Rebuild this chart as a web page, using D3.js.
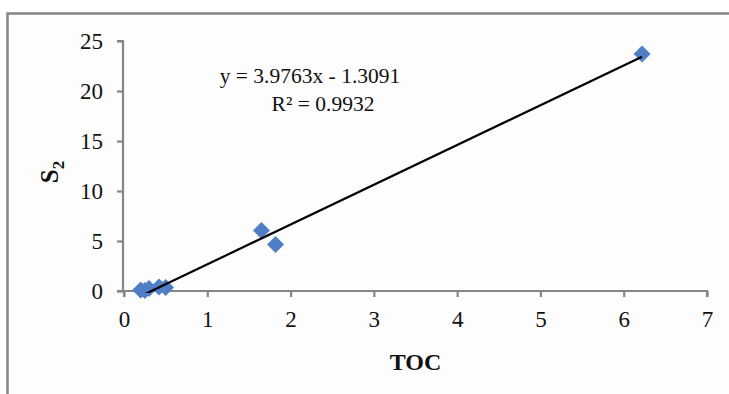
<!DOCTYPE html>
<html>
<head>
<meta charset="utf-8">
<script src="https://cdn.jsdelivr.net/npm/d3@7/dist/d3.min.js"></script>
<style>
  html, body { margin: 0; padding: 0; background: #fff; }
  svg { display: block; }
</style>
</head>
<body>
<script>
// Sample measurements: total organic carbon vs. S2
const tocValues = [0.20, 0.25, 0.30, 0.42, 0.50, 1.65, 1.82, 6.22];
const s2Values  = [0.10, 0.05, 0.25, 0.40, 0.35, 6.05, 4.65, 23.7];
const xTicks = [0, 1, 2, 3, 4, 5, 6, 7];
const yTicks = [0, 5, 10, 15, 20, 25];
const slope = 3.9763;
const intercept = -1.3091;
const equationText = "y = 3.9763x - 1.3091";
const r2Text = "R² = 0.9932";

const W = 729, H = 394;
const plot = { left: 124, right: 707, top: 41, bottom: 291 };

const svg = d3.select("body").append("svg")
  .attr("width", W).attr("height", H);

// chart area with frame
svg.append("rect").attr("x", 0).attr("y", 0).attr("width", W).attr("height", H).attr("fill", "#fff");
svg.append("rect")
  .attr("x", 7.5).attr("y", 13.5).attr("width", W + 20).attr("height", H + 20)
  .attr("fill", "#fdfdfd").attr("stroke", "#868686").attr("stroke-width", 2.5);

const x = d3.scaleLinear().domain([0, 7]).range([plot.left, plot.right]);
const y = d3.scaleLinear().domain([0, 25]).range([plot.bottom, plot.top]);

const serif = "'Liberation Serif', 'Times New Roman', serif";

// axes
const xAxis = svg.append("g")
  .attr("transform", `translate(0,${plot.bottom})`)
  .call(d3.axisBottom(x).tickValues(xTicks).tickFormat(d3.format("d")).tickSize(6).tickPadding(14));
const yAxis = svg.append("g")
  .attr("transform", `translate(${plot.left - 1},0)`)
  .call(d3.axisLeft(y).tickValues(yTicks).tickFormat(d3.format("d")).tickSize(6).tickPadding(14));

[xAxis, yAxis].forEach(g => {
  g.select(".domain").attr("stroke", "#868686").attr("stroke-width", 2.2);
  g.selectAll(".tick line").attr("stroke", "#868686").attr("stroke-width", 2.2);
  g.selectAll(".tick text")
    .attr("fill", "#111").style("font-family", serif).style("font-size", "23px");
});
xAxis.select(".domain").attr("d", `M${plot.left},6V0H${plot.right}V6`);
yAxis.select(".domain").attr("d", `M-6,${plot.top}H0V${plot.bottom}H-6`);
yAxis.selectAll(".tick text").attr("dy", "0.34em");

// axis titles
svg.append("text")
  .attr("x", (plot.left + plot.right) / 2).attr("y", 370)
  .attr("text-anchor", "middle")
  .style("font-family", serif).style("font-size", "24px").style("font-weight", "bold")
  .attr("fill", "#111")
  .text("TOC");

const yTitle = svg.append("text")
  .attr("transform", `translate(58,${(plot.top + plot.bottom) / 2 + 6}) rotate(-90)`)
  .attr("text-anchor", "middle")
  .style("font-family", serif).style("font-size", "25px").style("font-weight", "bold")
  .attr("fill", "#111");
yTitle.append("tspan").text("S");
yTitle.append("tspan").attr("dy", 6).style("font-size", "17px").text("2");

// data points as diamonds
const pts = tocValues.map((v, i) => ({ x: v, y: s2Values[i] }));
const d = 8.5;
svg.append("g").selectAll("path").data(pts).join("path")
  .attr("d", p => {
    const cx = x(p.x), cy = y(p.y);
    return `M${cx},${cy - d}L${cx + d},${cy}L${cx},${cy + d}L${cx - d},${cy}Z`;
  })
  .attr("fill", "#4f7ec6");

// linear trendline, clipped to the plot area
svg.append("clipPath").attr("id", "plotClip")
  .append("rect").attr("x", plot.left).attr("y", plot.top - 10)
  .attr("width", plot.right - plot.left).attr("height", plot.bottom - plot.top + 12);
const xMin = d3.min(tocValues), xMax = d3.max(tocValues);
svg.append("line")
  .attr("clip-path", "url(#plotClip)")
  .attr("x1", x(xMin)).attr("y1", y(slope * xMin + intercept))
  .attr("x2", x(xMax)).attr("y2", y(slope * xMax + intercept))
  .attr("stroke", "#000").attr("stroke-width", 2.2);

// regression equation
svg.append("text")
  .attr("x", 310).attr("y", 83)
  .attr("text-anchor", "middle")
  .style("font-family", serif).style("font-size", "21.5px").attr("fill", "#111")
  .text(equationText);
svg.append("text")
  .attr("x", 323).attr("y", 111)
  .attr("text-anchor", "middle")
  .style("font-family", serif).style("font-size", "21.5px").attr("fill", "#111")
  .text(r2Text);
</script>
</body>
</html>
